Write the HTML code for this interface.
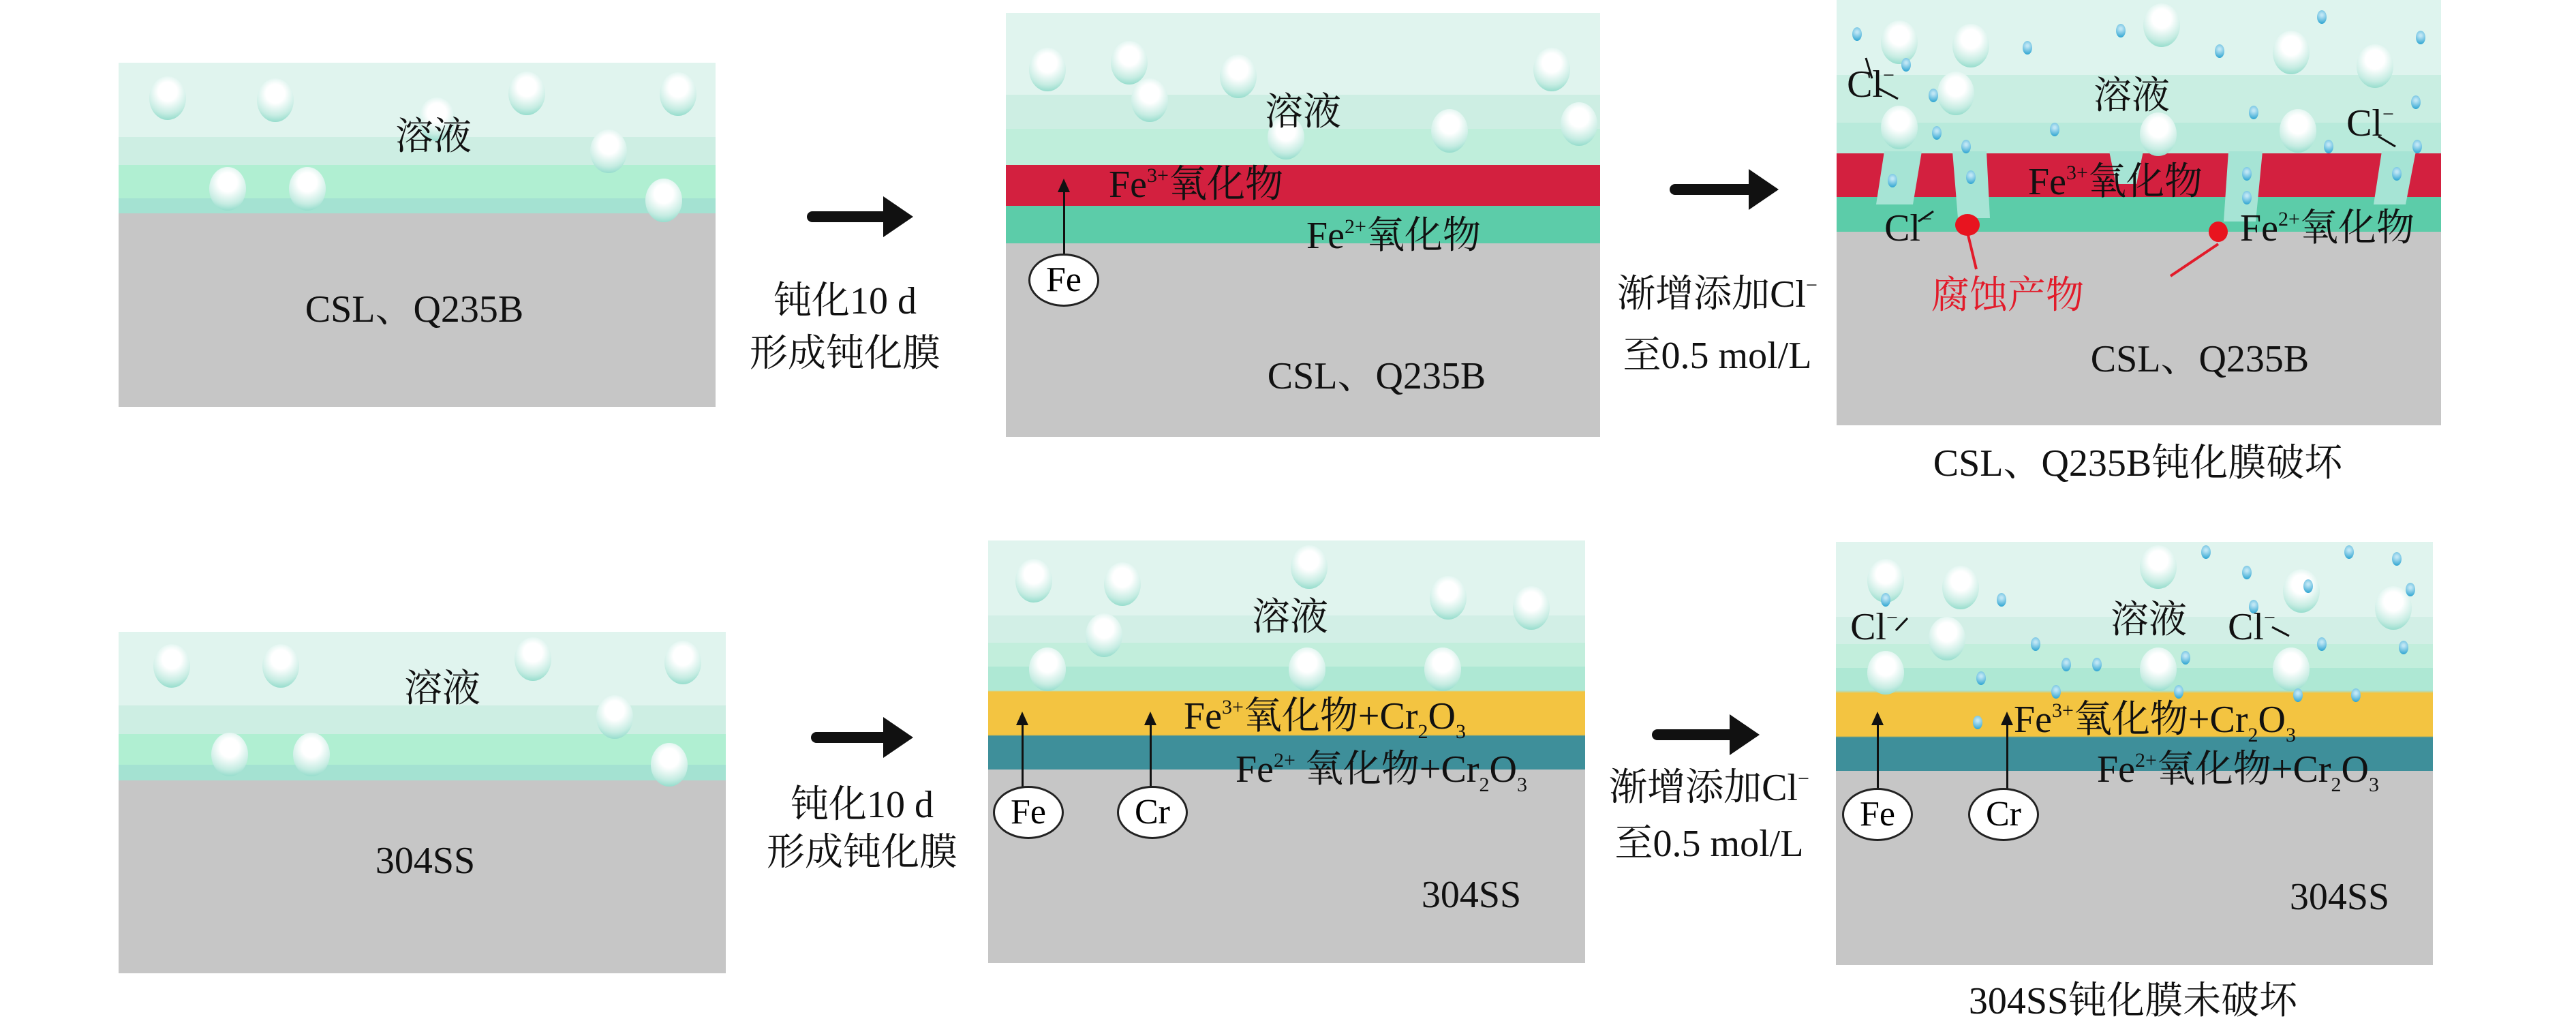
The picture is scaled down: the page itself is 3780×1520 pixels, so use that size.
<!DOCTYPE html>
<html><head><meta charset="utf-8"><style>
body{margin:0;width:3780px;height:1520px;background:#fff;position:relative;overflow:hidden;font-family:"Liberation Serif","Noto Serif CJK SC",serif;}
.p{position:absolute;}
.t{position:absolute;font-size:56px;color:#111;white-space:nowrap;transform:translate(-50%,-50%);line-height:1;}
.tl{position:absolute;font-size:56px;color:#111;white-space:nowrap;transform:translateY(-50%);line-height:1;}
sup{font-size:30px;vertical-align:22px;line-height:0}
sub{font-size:30px;vertical-align:-14px;line-height:0}
.b{position:absolute;width:54px;height:64px;border-radius:50%;background:radial-gradient(circle at 50% 35%,#fff 28%,#c5ece2 65%,#6fd0bb 100%);}
.d{position:absolute;width:14px;height:20px;border-radius:50%;background:radial-gradient(circle at 50% 35%,#bfe6f5 10%,#2aa3d0 90%);}
.c{position:absolute;width:98px;height:72px;border:3px solid #222;border-radius:50%;background:#fff;font-size:52px;text-align:center;line-height:72px;transform:translate(-50%,-50%);}
.ar{position:absolute;width:3px;background:#111;}
.ar:before{content:"";position:absolute;left:-8px;top:-18px;border-left:9px solid transparent;border-right:9px solid transparent;border-bottom:20px solid #111;}
.arr{position:absolute;height:16px;background:#111;border-radius:8px 0 0 8px;}
.arr:after{content:"";position:absolute;right:-40px;top:-22px;border-top:30px solid transparent;border-bottom:30px solid transparent;border-left:44px solid #111;}
</style></head><body>

<!-- Panel 1 -->
<div class="p" style="left:174px;top:92px;width:876px;height:505px;background:linear-gradient(#e0f4ee 0,#e0f4ee 109px,#cdeee3 109px,#cdeee3 150px,#b0efd2 150px,#b0efd2 199px,#a4e2d2 199px,#a4e2d2 221px,#c6c6c6 221px)"></div>
<div class="b" style="left:219px;top:112px"></div><div class="b" style="left:377px;top:115px"></div><div class="b" style="left:746px;top:105px"></div><div class="b" style="left:968px;top:106px"></div><div class="b" style="left:614px;top:143px"></div><div class="b" style="left:866px;top:190px"></div><div class="b" style="left:307px;top:245px"></div><div class="b" style="left:424px;top:245px"></div><div class="b" style="left:947px;top:262px"></div>
<div class="t" style="left:636px;top:201px">溶液</div>
<div class="t" style="left:608px;top:454px">CSL、Q235B</div>
<div class="arr" style="left:1184px;top:310px;width:116px"></div>
<div class="t" style="left:1240px;top:442px">钝化10 d</div>
<div class="t" style="left:1240px;top:519px">形成钝化膜</div>

<!-- Panel 2 -->
<div class="p" style="left:1476px;top:19px;width:872px;height:622px;background:linear-gradient(#e0f4ee 0,#e0f4ee 120px,#cdeee3 120px,#cdeee3 170px,#bfeedb 170px,#bfeedb 223px,#d3203f 223px,#d3203f 283px,#5ccca9 283px,#5ccca9 338px,#c6c6c6 338px)"></div>
<div class="b" style="left:1510px;top:70px"></div><div class="b" style="left:1630px;top:60px"></div><div class="b" style="left:1790px;top:80px"></div><div class="b" style="left:2250px;top:70px"></div><div class="b" style="left:1660px;top:115px"></div><div class="b" style="left:2100px;top:160px"></div><div class="b" style="left:2290px;top:150px"></div><div class="b" style="left:1860px;top:170px"></div>
<div class="t" style="left:1912px;top:165px">溶液</div>
<div class="t" style="left:1755px;top:271px">Fe<sup>3+</sup>氧化物</div>
<div class="t" style="left:2045px;top:346px">Fe<sup>2+</sup>氧化物</div>
<div class="ar" style="left:1560px;top:280px;height:100px"></div>
<div class="c" style="left:1561px;top:411px">Fe</div>
<div class="t" style="left:2020px;top:552px">CSL、Q235B</div>
<div class="arr" style="left:2450px;top:270px;width:120px"></div>
<div class="t" style="left:2520px;top:432px">渐增添加Cl<sup>−</sup></div>
<div class="t" style="left:2520px;top:522px">至0.5 mol/L</div>

<!-- Panel 3 -->
<div class="p" style="left:2695px;top:0;width:887px;height:624px;background:linear-gradient(#def4ee 0,#def4ee 110px,#c9eee2 110px,#c9eee2 180px,#b8eadb 180px,#b8eadb 225px,#d3203f 225px,#d3203f 289px,#5ccca9 289px,#5ccca9 340px,#c6c6c6 340px)"></div>
<svg class="p" style="left:2695px;top:0" width="887" height="624">
<g fill="#a6e4d5">
<polygon points="70,222 125,222 112,300 58,300"/>
<polygon points="170,222 220,222 225,320 178,320"/>
<polygon points="400,222 450,222 440,270 410,270"/>
<polygon points="575,222 625,222 615,325 568,325"/>
<polygon points="800,222 850,222 835,300 788,300"/>
</g>
<g stroke="#111" stroke-width="3"><line x1="43" y1="85" x2="52" y2="115"/><line x1="62" y1="130" x2="90" y2="145"/><line x1="795" y1="200" x2="820" y2="215"/><line x1="120" y1="325" x2="142" y2="310"/></g>
<g stroke="#e21b2a" stroke-width="4"><line x1="193" y1="345" x2="205" y2="395"/><line x1="560" y1="358" x2="490" y2="405"/></g>
<ellipse cx="192" cy="330" rx="18" ry="16" fill="#e8141f"/><ellipse cx="560" cy="340" rx="14" ry="15" fill="#e8141f"/>
</svg>
<div class="b" style="left:2760px;top:30px"></div><div class="b" style="left:2865px;top:35px"></div><div class="b" style="left:3145px;top:5px"></div><div class="b" style="left:3335px;top:45px"></div><div class="b" style="left:3458px;top:65px"></div><div class="b" style="left:2843px;top:105px"></div><div class="b" style="left:2760px;top:155px"></div><div class="b" style="left:3345px;top:160px"></div><div class="b" style="left:3140px;top:165px"></div>
<div class="d" style="left:2718px;top:40px"></div><div class="d" style="left:2790px;top:85px"></div><div class="d" style="left:2968px;top:60px"></div><div class="d" style="left:3105px;top:35px"></div><div class="d" style="left:3250px;top:65px"></div><div class="d" style="left:3400px;top:15px"></div><div class="d" style="left:3545px;top:45px"></div><div class="d" style="left:3538px;top:140px"></div><div class="d" style="left:2830px;top:130px"></div><div class="d" style="left:2835px;top:185px"></div><div class="d" style="left:3008px;top:180px"></div><div class="d" style="left:3300px;top:155px"></div><div class="d" style="left:2878px;top:205px"></div><div class="d" style="left:3410px;top:205px"></div><div class="d" style="left:3540px;top:205px"></div><div class="d" style="left:2770px;top:255px"></div><div class="d" style="left:2885px;top:250px"></div><div class="d" style="left:3290px;top:245px"></div><div class="d" style="left:3290px;top:280px"></div><div class="d" style="left:3510px;top:245px"></div>
<div class="t" style="left:2745px;top:124px">Cl<sup>−</sup></div>
<div class="t" style="left:3478px;top:181px">Cl<sup>−</sup></div>
<div class="t" style="left:2800px;top:335px">Cl<sup>−</sup></div>
<div class="t" style="left:3128px;top:141px">溶液</div>
<div class="t" style="left:3104px;top:267px">Fe<sup>3+</sup>氧化物</div>
<div class="t" style="left:3415px;top:335px">Fe<sup>2+</sup>氧化物</div>
<div class="t" style="left:2946px;top:434px;color:#e21b2a">腐蚀产物</div>
<div class="t" style="left:3228px;top:527px">CSL、Q235B</div>
<div class="t" style="left:3137px;top:680px">CSL、Q235B钝化膜破坏</div>

<!-- Panel 4 -->
<div class="p" style="left:174px;top:927px;width:891px;height:501px;background:linear-gradient(#e0f4ee 0,#e0f4ee 108px,#cdeee3 108px,#cdeee3 150px,#b0efd2 150px,#b0efd2 195px,#a4e2d2 195px,#a4e2d2 218px,#c6c6c6 218px)"></div>
<div class="b" style="left:225px;top:945px"></div><div class="b" style="left:385px;top:945px"></div><div class="b" style="left:755px;top:935px"></div><div class="b" style="left:975px;top:940px"></div><div class="b" style="left:875px;top:1020px"></div><div class="b" style="left:310px;top:1075px"></div><div class="b" style="left:430px;top:1075px"></div><div class="b" style="left:955px;top:1090px"></div>
<div class="t" style="left:649px;top:1011px">溶液</div>
<div class="t" style="left:624px;top:1263px">304SS</div>
<div class="arr" style="left:1190px;top:1074px;width:110px"></div>
<div class="t" style="left:1265px;top:1181px">钝化10 d</div>
<div class="t" style="left:1265px;top:1251px">形成钝化膜</div>

<!-- Panel 5 -->
<div class="p" style="left:1450px;top:793px;width:876px;height:620px;background:linear-gradient(#e0f4ee 0,#e0f4ee 110px,#d2efe6 110px,#d2efe6 150px,#c2eedc 150px,#c2eedc 185px,#aee8d4 185px,#aee8d4 220px,#f3c441 222px,#f3c441 285px,#3e8f9a 287px,#3e8f9a 336px,#c6c6c6 336px)"></div>
<div class="b" style="left:1490px;top:820px"></div><div class="b" style="left:1620px;top:825px"></div><div class="b" style="left:1894px;top:800px"></div><div class="b" style="left:2098px;top:845px"></div><div class="b" style="left:2220px;top:860px"></div><div class="b" style="left:1593px;top:900px"></div><div class="b" style="left:1510px;top:950px"></div><div class="b" style="left:1891px;top:950px"></div><div class="b" style="left:2090px;top:950px"></div>
<div class="t" style="left:1893px;top:906px">溶液</div>
<div class="tl" style="left:1737px;top:1051px">Fe<sup>3+</sup>氧化物+Cr<sub>2</sub>O<sub>3</sub></div>
<div class="tl" style="left:1813px;top:1129px">Fe<sup>2+</sup> 氧化物+Cr<sub>2</sub>O<sub>3</sub></div>
<div class="ar" style="left:1499px;top:1062px;height:94px"></div>
<div class="ar" style="left:1687px;top:1062px;height:94px"></div>
<div class="c" style="left:1509px;top:1192px">Fe</div>
<div class="c" style="left:1691px;top:1192px">Cr</div>
<div class="t" style="left:2159px;top:1313px">304SS</div>
<div class="arr" style="left:2424px;top:1070px;width:118px"></div>
<div class="t" style="left:2508px;top:1156px">渐增添加Cl<sup>−</sup></div>
<div class="t" style="left:2508px;top:1238px">至0.5 mol/L</div>

<!-- Panel 6 -->
<div class="p" style="left:2694px;top:795px;width:876px;height:621px;background:linear-gradient(#e0f4ee 0,#e0f4ee 110px,#d2efe6 110px,#d2efe6 150px,#c2eedc 150px,#c2eedc 185px,#aee8d4 185px,#aee8d4 218px,#9fe3e0 218px,#f3c441 222px,#f3c441 285px,#3e8f9a 287px,#3e8f9a 336px,#c6c6c6 336px)"></div>
<div class="b" style="left:2740px;top:820px"></div><div class="b" style="left:2850px;top:830px"></div><div class="b" style="left:3140px;top:800px"></div><div class="b" style="left:3350px;top:835px"></div><div class="b" style="left:3485px;top:860px"></div><div class="b" style="left:2830px;top:905px"></div><div class="b" style="left:2740px;top:955px"></div><div class="b" style="left:3140px;top:950px"></div><div class="b" style="left:3335px;top:950px"></div>
<div class="d" style="left:3230px;top:800px"></div><div class="d" style="left:3440px;top:800px"></div><div class="d" style="left:3510px;top:810px"></div><div class="d" style="left:2760px;top:870px"></div><div class="d" style="left:2930px;top:870px"></div><div class="d" style="left:3290px;top:830px"></div><div class="d" style="left:3380px;top:850px"></div><div class="d" style="left:3530px;top:855px"></div><div class="d" style="left:3300px;top:880px"></div><div class="d" style="left:2980px;top:935px"></div><div class="d" style="left:3025px;top:965px"></div><div class="d" style="left:3200px;top:955px"></div><div class="d" style="left:3400px;top:935px"></div><div class="d" style="left:3520px;top:940px"></div><div class="d" style="left:2900px;top:985px"></div><div class="d" style="left:3070px;top:965px"></div><div class="d" style="left:3190px;top:1005px"></div><div class="d" style="left:3365px;top:1010px"></div><div class="d" style="left:3450px;top:1010px"></div><div class="d" style="left:3010px;top:1005px"></div><div class="d" style="left:2895px;top:1050px" ></div>
<div class="t" style="left:2750px;top:920px">Cl<sup>−</sup></div>
<div class="t" style="left:3304px;top:920px">Cl<sup>−</sup></div>
<svg class="p" style="left:2694px;top:795px" width="876" height="621"><g stroke="#111" stroke-width="3"><line x1="88" y1="130" x2="105" y2="112"/><line x1="640" y1="125" x2="665" y2="138"/></g></svg>
<div class="t" style="left:3153px;top:910px">溶液</div>
<div class="tl" style="left:2955px;top:1056px">Fe<sup>3+</sup>氧化物+Cr<sub>2</sub>O<sub>3</sub></div>
<div class="tl" style="left:3077px;top:1129px">Fe<sup>2+</sup>氧化物+Cr<sub>2</sub>O<sub>3</sub></div>
<div class="ar" style="left:2754px;top:1062px;height:95px"></div>
<div class="ar" style="left:2944px;top:1062px;height:95px"></div>
<div class="c" style="left:2755px;top:1195px">Fe</div>
<div class="c" style="left:2940px;top:1195px">Cr</div>
<div class="t" style="left:3433px;top:1316px">304SS</div>
<div class="t" style="left:3130px;top:1469px">304SS钝化膜未破坏</div>
</body></html>
